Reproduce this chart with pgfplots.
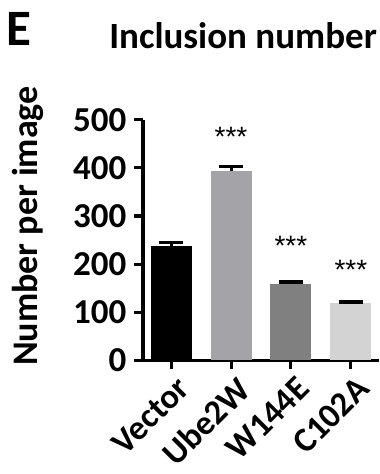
\documentclass[border=0pt]{standalone}
\usepackage{pgfplots}
\pgfplotsset{compat=1.18}
\usepackage{fontspec}
\setmainfont{Carlito}
\newfontfamily\starfont{Liberation Sans}
\definecolor{cVec}{RGB}{0,0,0}
\definecolor{cUbe}{RGB}{163,163,168}
\definecolor{cW}{RGB}{128,128,128}
\definecolor{cC}{RGB}{211,211,211}
\begin{document}
\begin{tikzpicture}
\path[use as bounding box] (0,0) rectangle (380pt,474pt);
\begin{axis}[
  at={(143pt,114pt)}, anchor=south west,
  scale only axis, width=236pt, height=240pt,
  xmin=-0.47, xmax=3.47, ymin=0, ymax=500,
  axis x line=bottom, axis y line=left,
  axis line style={-, line width=3pt},
  every tick/.style={line width=3pt, black},
  major tick length=9pt,
  tick align=outside,
  xtick={0,1,2,3},
  xticklabels={Vector,Ube2W,W144E,C102A},
  ytick={0,100,200,300,400,500},
  /pgf/number format/assume math mode=true,
  tick label style={font=\bfseries\fontsize{35}{35}\selectfont},
  xticklabel style={rotate=45, anchor=north east, inner sep=2pt, yshift=-5pt, xshift=1pt, font=\bfseries\fontsize{34.5}{34.5}\selectfont},
  yticklabel style={xshift=-4pt},
  ylabel={Number per image},
  ylabel style={at={(axis description cs:-0.487,0.558)}, anchor=center, font=\bfseries\fontsize{36}{36}\selectfont},
  title={Inclusion number},
  title style={at={(axis description cs:0.424,1.271)}, anchor=base, font=\bfseries\fontsize{37}{37}\selectfont},
  ybar, bar width=41pt,
  clip=false,
  error bars/y dir=plus, error bars/y explicit,
  error bars/error bar style={line width=3pt, black},
  error bars/error mark options={rotate=90, mark size=12pt, line width=3.5pt, black},
]
\addplot[fill=cVec, draw=none, bar shift=0pt] coordinates {(0,238) +- (0,7)};
\addplot[fill=cUbe, draw=none, bar shift=0pt] coordinates {(1,394) +- (0,9)};
\addplot[fill=cW, draw=none, bar shift=0pt] coordinates {(2,159) +- (0,3)};
\addplot[fill=cC, draw=none, bar shift=0pt] coordinates {(3,118) +- (0,3)};
\node[anchor=base, font=\starfont\fontsize{28}{28}\selectfont, inner sep=0pt] at (axis cs:1,444) {***};
\node[anchor=base, font=\starfont\fontsize{28}{28}\selectfont, inner sep=0pt] at (axis cs:2,217) {***};
\node[anchor=base, font=\starfont\fontsize{28}{28}\selectfont, inner sep=0pt] at (axis cs:3,167) {***};
\node[anchor=base west, font=\bfseries\fontsize{51}{51}\selectfont, inner sep=0pt] at (axis description cs:-0.58,1.3125) {E};
\end{axis}
\end{tikzpicture}
\end{document}
